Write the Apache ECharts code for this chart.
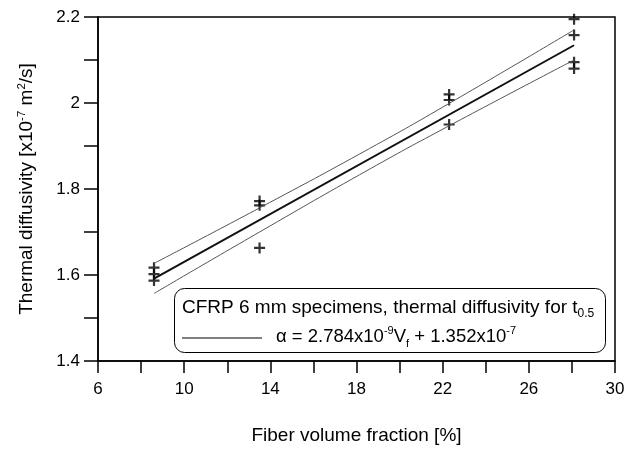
<!DOCTYPE html>
<html>
<head>
<meta charset="utf-8">
<script src="https://cdn.jsdelivr.net/npm/echarts@6/dist/echarts.min.js"></script>
<style>
  html, body { margin: 0; padding: 0; background: #fff; }
  #chart { width: 640px; height: 450px; }
</style>
</head>
<body>
<div id="chart"></div>
<script>
// Measured specimens: fiber volume fraction [%] and thermal diffusivity [x10^-7 m^2/s]
const fiberFraction = [8.6, 8.6, 8.6, 13.5, 13.5, 13.5, 22.3, 22.3, 22.3, 28.1, 28.1, 28.1, 28.1];
const diffusivity   = [1.617, 1.602, 1.587, 1.772, 1.762, 1.663, 2.020, 2.007, 1.950, 2.195, 2.158, 2.095, 2.080];

// Linear fit: alpha = 2.784e-9 * Vf + 1.352e-7  (expressed in units of 1e-7)
const fitSlope = 0.02784;
const fitIntercept = 1.352;
const fitRange = [8.6, 28.1];

// Confidence band around the fit
const bandX     = [8.6, 13.5, 18.6, 22.3, 28.1];
const bandUpper = [1.627, 1.756, 1.894, 1.999, 2.170];
const bandLower = [1.557, 1.700, 1.846, 1.947, 2.100];

// Axis ticks
const xTicks = { min: 6, max: 30, step: 2, labelStep: 4 };
const yTicks = { min: 1.4, max: 2.2, step: 0.1, labelStep: 0.2 };

const FONT = '"Liberation Sans", Arial, Helvetica, sans-serif';

const chart = echarts.init(document.getElementById('chart'), null, { renderer: 'canvas' });

const points = fiberFraction.map((v, i) => [v, diffusivity[i]]);
const fitLine = fitRange.map(v => [v, fitIntercept + fitSlope * v]);
const upper = bandX.map((v, i) => [v, bandUpper[i]]);
const lower = bandX.map((v, i) => [v, bandLower[i]]);

const plusSymbol = 'path://M4,0H6V4H10V6H6V10H4V6H0V4H4Z';

chart.setOption({
  animation: false,
  backgroundColor: '#fff',
  grid: {
    left: 98, right: 25, top: 17, bottom: 88,
    show: true, borderColor: '#000', borderWidth: 1.5, backgroundColor: 'transparent'
  },
  xAxis: {
    type: 'value',
    min: xTicks.min, max: xTicks.max, interval: xTicks.step,
    name: 'Fiber volume fraction [%]',
    nameLocation: 'middle', nameGap: 65,
    nameTextStyle: { fontFamily: FONT, fontSize: 19, color: '#000' },
    axisLine: { show: true, lineStyle: { color: '#000', width: 1.5 } },
    axisTick: { show: true, inside: false, length: 12, lineStyle: { color: '#000', width: 1.5 } },
    axisLabel: {
      fontFamily: FONT, fontSize: 17, color: '#000', margin: 20,
      formatter: v => (Math.round(v - xTicks.min) % xTicks.labelStep === 0 ? String(v) : '')
    },
    splitLine: { show: false }
  },
  yAxis: {
    type: 'value',
    min: yTicks.min, max: yTicks.max, interval: yTicks.step,
    name: '{n|Thermal diffusivity [x10}{s|-7}{n| m}{s|2}{n|/s]}',
    nameLocation: 'middle', nameGap: 60, nameRotate: 90,
    nameTextStyle: {
      fontFamily: FONT, fontSize: 19, color: '#000',
      rich: {
        n: { fontFamily: FONT, fontSize: 19, color: '#000', lineHeight: 22 },
        s: { fontFamily: FONT, fontSize: 11.5, color: '#000', lineHeight: 22, verticalAlign: 'top' }
      }
    },
    axisLine: { show: true, lineStyle: { color: '#000', width: 1.5 } },
    axisTick: { show: true, inside: false, length: 14, lineStyle: { color: '#000', width: 1.5 } },
    axisLabel: {
      fontFamily: FONT, fontSize: 17, color: '#000', margin: 18,
      formatter: v => {
        const k = Math.round((v - yTicks.min) / yTicks.step);
        const every = Math.round(yTicks.labelStep / yTicks.step);
        return k % every === 0 ? String(+v.toFixed(1)) : '';
      }
    },
    splitLine: { show: false }
  },
  series: [
    {
      type: 'line', data: upper, symbol: 'none', smooth: true, silent: true,
      lineStyle: { color: '#555', width: 1 }
    },
    {
      type: 'line', data: lower, symbol: 'none', smooth: true, silent: true,
      lineStyle: { color: '#555', width: 1 }
    },
    {
      type: 'line', data: fitLine, symbol: 'none', silent: true,
      lineStyle: { color: '#111', width: 2 }
    },
    {
      type: 'scatter', data: points, symbol: plusSymbol, symbolSize: 11, silent: true,
      itemStyle: { color: '#000' }
    }
  ],
  graphic: [
    {
      type: 'rect', left: 174, top: 288,
      shape: { width: 431, height: 64, r: 10 },
      style: { fill: '#fff', stroke: '#000', lineWidth: 1 },
      z: 100
    },
    {
      type: 'text', left: 182, top: 298, z: 101,
      style: {
        text: '{n|CFRP 6 mm specimens, thermal diffusivity for t}{b|0.5}',
        rich: {
          n: { fontFamily: FONT, fontSize: 19, fill: '#000', lineHeight: 24 },
          b: { fontFamily: FONT, fontSize: 12, fill: '#000', lineHeight: 24, verticalAlign: 'bottom' }
        }
      }
    },
    {
      type: 'line', z: 101,
      shape: { x1: 182, y1: 338, x2: 262, y2: 338 },
      style: { stroke: '#000', lineWidth: 1.2 }
    },
    {
      type: 'text', left: 276, top: 325, z: 101,
      style: {
        text: '{n|\u03b1 = 2.784x10}{s|-9}{n|V}{b|f}{n| + 1.352x10}{s|-7}',
        rich: {
          n: { fontFamily: FONT, fontSize: 18.5, fill: '#000', lineHeight: 24 },
          s: { fontFamily: FONT, fontSize: 11, fill: '#000', lineHeight: 24, verticalAlign: 'top' },
          b: { fontFamily: FONT, fontSize: 11, fill: '#000', lineHeight: 24, verticalAlign: 'bottom' }
        }
      }
    }
  ]
});
</script>
</body>
</html>
